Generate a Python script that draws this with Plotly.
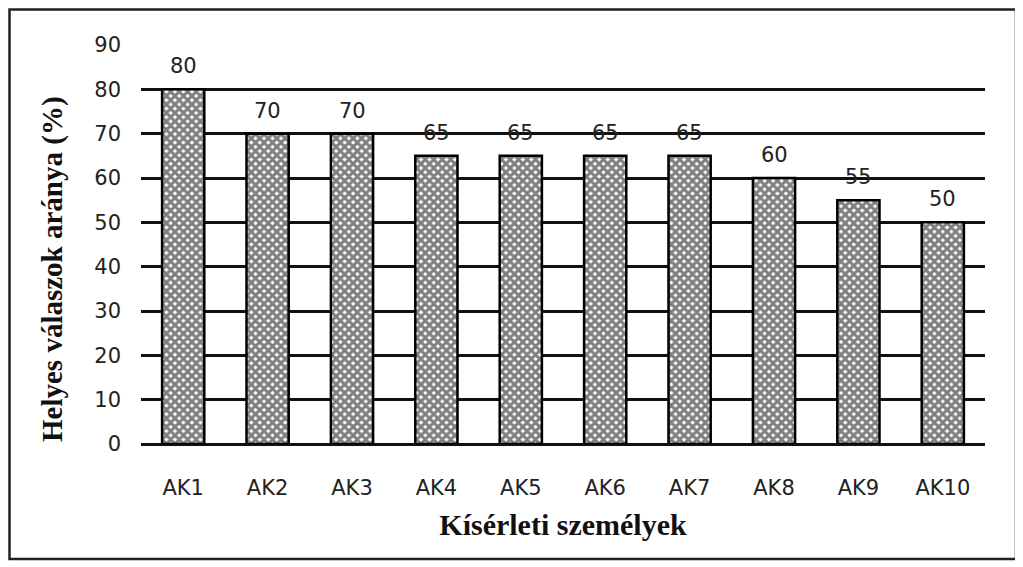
import plotly.graph_objects as go

subjects = ["AK1", "AK2", "AK3", "AK4", "AK5", "AK6", "AK7", "AK8", "AK9", "AK10"]
correct_pct = [80, 70, 70, 65, 65, 65, 65, 60, 55, 50]
y_ticks = [0, 10, 20, 30, 40, 50, 60, 70, 80, 90]

# page has an 8px body margin, so the figure is sized/shifted to fit
W, H = 1015, 559
ml, mr, mt, mb = 133, 38, 37, 123
pw = W - ml - mr
ph = H - mt - mb

fig = go.Figure()
fig.add_trace(go.Bar(
    x=subjects,
    y=correct_pct,
    marker=dict(
        color="white",
        line=dict(color="black", width=2.5),
        pattern=dict(shape="x", fgcolor="black", bgcolor="white", size=6, solidity=0.75),
    ),
    width=0.5,
))

# value labels, lifted a bit above the bars like the original
for s, v in zip(subjects, correct_pct):
    fig.add_annotation(x=s, y=v, text=str(v), showarrow=False,
                       yanchor="bottom", yshift=9,
                       font=dict(family="DejaVu Sans", size=21, color="#222"))

# y title sits a little below the middle in the original
fig.add_annotation(xref="paper", yref="paper", x=(44 - ml) / pw, y=(H - mb - 261) / ph,
                   text="Helyes válaszok aránya (%)", textangle=-90, showarrow=False,
                   xanchor="center", yanchor="middle",
                   font=dict(family="Liberation Serif", size=29, color="#111", weight="bold"))

# outer frame round the whole picture
fx0, fx1, fy0, fy1 = 1.5, 1008, 1.5, 551
fig.add_shape(type="rect", xref="paper", yref="paper",
              x0=(fx0 - ml) / pw, x1=(fx1 - ml) / pw,
              y0=(H - mb - fy1) / ph, y1=(H - mb - fy0) / ph,
              line=dict(color="#222", width=2.5), layer="below")

fig.update_layout(
    width=W, height=H,
    margin=dict(l=ml, r=mr, t=mt, b=mb),
    paper_bgcolor="white",
    plot_bgcolor="white",
    showlegend=False,
    bargap=0.5,
    font=dict(family="DejaVu Sans", color="#222"),
)
fig.update_xaxes(
    showline=False, showgrid=False, ticks="",
    tickfont=dict(size=21), ticklabelstandoff=29,
    title=dict(text="Kísérleti személyek", standoff=14,
               font=dict(family="Liberation Serif", size=30, color="#111", weight="bold")),
)
fig.update_yaxes(
    range=[0, 90], tickvals=y_ticks,
    showgrid=True, gridcolor="#111", gridwidth=2.5,
    zeroline=True, zerolinecolor="#111", zerolinewidth=2.5,
    showline=False, ticks="", ticklabelstandoff=19,
    tickfont=dict(size=21),
)

fig.write_html("out.html")
